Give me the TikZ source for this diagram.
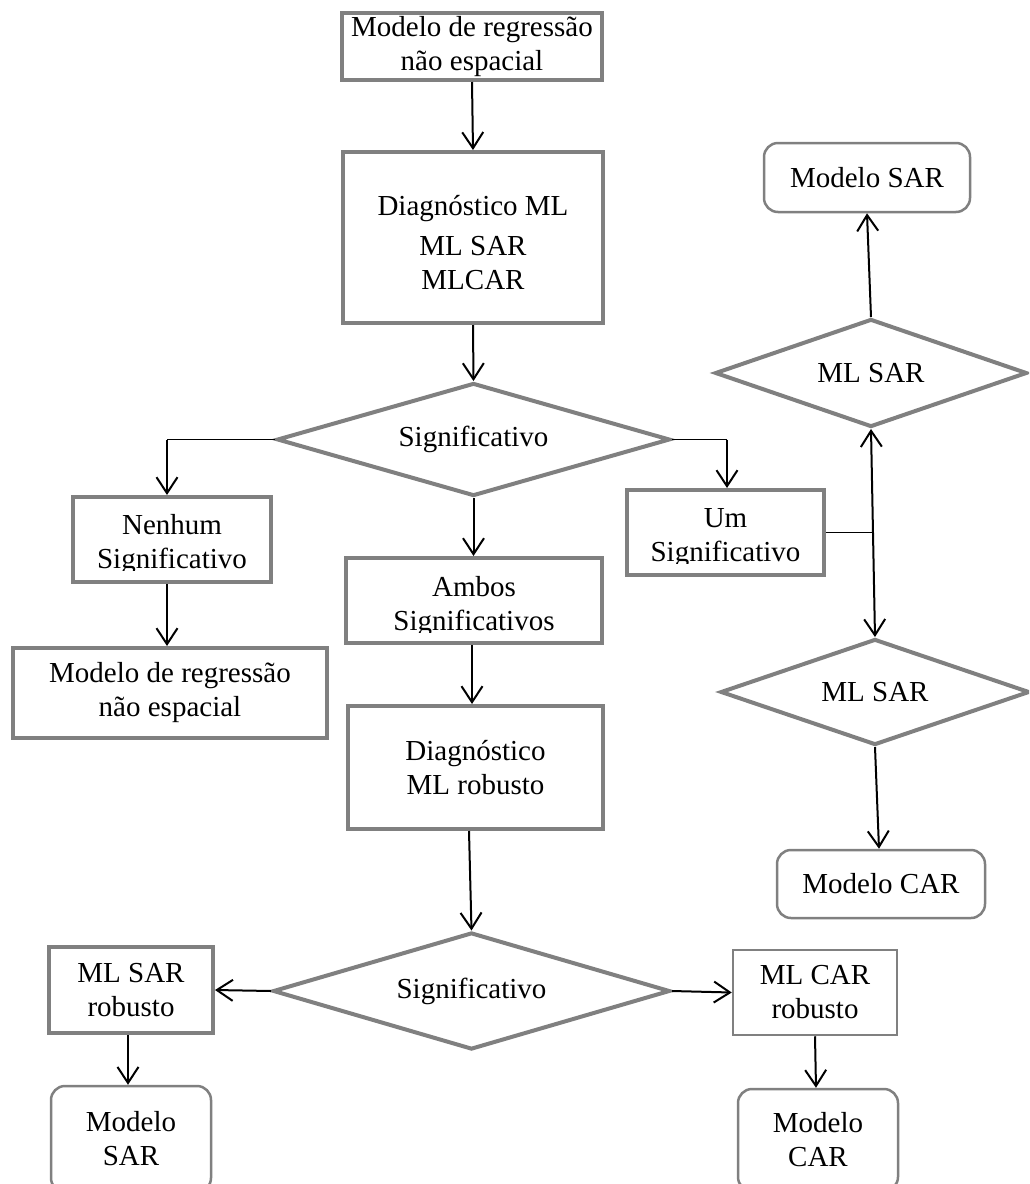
\documentclass[tikz,border=0pt]{standalone}
\usepackage{fontspec}
\setmainfont{Liberation Serif}
\usetikzlibrary{arrows.meta,shapes.geometric}
\definecolor{bordergray}{HTML}{808080}
\begin{document}
\begin{tikzpicture}[x=1pt,y=-1pt,
  every node/.style={font=\fontsize{29}{34}\selectfont, inner sep=0pt, align=center},
  box/.style={draw=bordergray, line width=4pt, fill=white, rectangle},
  thinbox/.style={draw=bordergray, line width=2.5pt, fill=white, rectangle},
  rbox/.style={draw=bordergray, line width=2.5pt, fill=white, rectangle, rounded corners=14pt},
  dia/.style={draw=bordergray, line width=4pt, fill=white, diamond, aspect=3},
  arr/.style={draw=black, line width=2pt, -{Straight Barb[length=16pt,width=21pt]}},
  darr/.style={draw=black, line width=2pt, {Straight Barb[length=16pt,width=21pt]}-{Straight Barb[length=16pt,width=21pt]}},
  thinl/.style={draw=black, line width=1.3pt},
]
\useasboundingbox (0,0) rectangle (1029,1184);
\clip (0,0) rectangle (1029,1184);

% central column
\node[box, minimum width=260pt, minimum height=67pt] (top) at (472,46.5) {Modelo de regressão\\não espacial};
\node[box, minimum width=260pt, minimum height=171pt] (diag) at (473,237.5) {\rule{0pt}{30pt}Diagnóstico ML\\[6pt]ML SAR\\MLCAR};
\node[dia, minimum width=393pt, minimum height=113pt] (d1) at (473.5,439.5) {Significativo};
\node[box, minimum width=256pt, minimum height=85pt] (amb) at (474,600.5) {};
\begin{scope}
  \clip (346,558) rectangle (602,632);
  \node (ambt) at (474,606.3) {Ambos\\Significativos};
\end{scope}
\node[box, minimum width=255pt, minimum height=123pt] (rob) at (475.5,767.5) {Diagnóstico\\ML robusto};
\node[dia, minimum width=397pt, minimum height=117pt] (d3) at (471.5,991) {Significativo};

% left column
\node[box, minimum width=198pt, minimum height=85pt] (nen) at (172,539.5) {};
\begin{scope}
  \clip (73,497) rectangle (271,570);
  \node (nent) at (172,544.8) {Nenhum\\Significativo};
\end{scope}
\node[box, minimum width=314pt, minimum height=90pt] (mod2) at (170,693) {Modelo de regressão\\não espacial};
\node[box, minimum width=164pt, minimum height=86pt] (sarr) at (131,990) {ML SAR\\robusto};
\node[rbox, minimum width=160pt, minimum height=106pt] (msar2) at (131,1139) {Modelo\\SAR};

% right of centre
\node[box, minimum width=197pt, minimum height=85pt] (um) at (725.5,532.5) {};
\begin{scope}
  \clip (627,490) rectangle (824,563);
  \node (umt) at (725.5,538) {Um\\Significativo};
\end{scope}
\node[thinbox, minimum width=164pt, minimum height=85pt] (car) at (815,992.5) {ML CAR\\robusto};
\node[rbox, minimum width=160pt, minimum height=102pt] (mcar2) at (818,1140) {Modelo\\CAR};

% far right column
\node[rbox, minimum width=206pt, minimum height=69pt] (msar) at (867,177.5) {Modelo SAR};
\node[dia, minimum width=312pt, minimum height=108pt] (d2) at (871,373) {ML SAR};
\node[dia, minimum width=309pt, minimum height=106pt] (d4) at (875,692) {ML SAR};
\node[rbox, minimum width=208pt, minimum height=68pt] (mcar) at (881,884) {Modelo CAR};

% connectors
\draw[arr] (top.south) -- (diag.north);
\draw[arr] (diag.south) -- (d1.north);
\coordinate (tl) at (167,439.5);
\draw[thinl] (d1.west) -- (tl);
\draw[arr] (tl) -- (tl |- nen.north);
\coordinate (tr) at (727,439.5);
\draw[thinl] (d1.east) -- (tr);
\draw[arr] (tr) -- (tr |- um.north);
\draw[arr] (d1.south) -- (d1.south |- amb.north);
\draw[arr] ([xshift=-5pt]nen.south) -- ([xshift=-3pt]mod2.north);
\draw[arr] ([xshift=-2pt]amb.south) -- ([xshift=-3.5pt]rob.north);
\draw[arr] ([xshift=-6.5pt]rob.south) -- (d3.north);
\draw[arr] (d3.west) -- (sarr.east);
\draw[arr] (d3.east) -- (car.west);
\draw[arr] ([xshift=-3pt]sarr.south) -- ([xshift=-3pt]msar2.north);
\draw[arr] (car.south) -- ([xshift=-2pt]mcar2.north);
\draw[darr] (d2.south) -- (d4.north);
\coordinate (j) at (874,532.5);
\draw[thinl] (um.east) -- (j);
\draw[arr] (d2.north) -- (msar.south);
\draw[arr] (d4.south) -- ([xshift=-2pt]mcar.north);
\end{tikzpicture}
\end{document}
